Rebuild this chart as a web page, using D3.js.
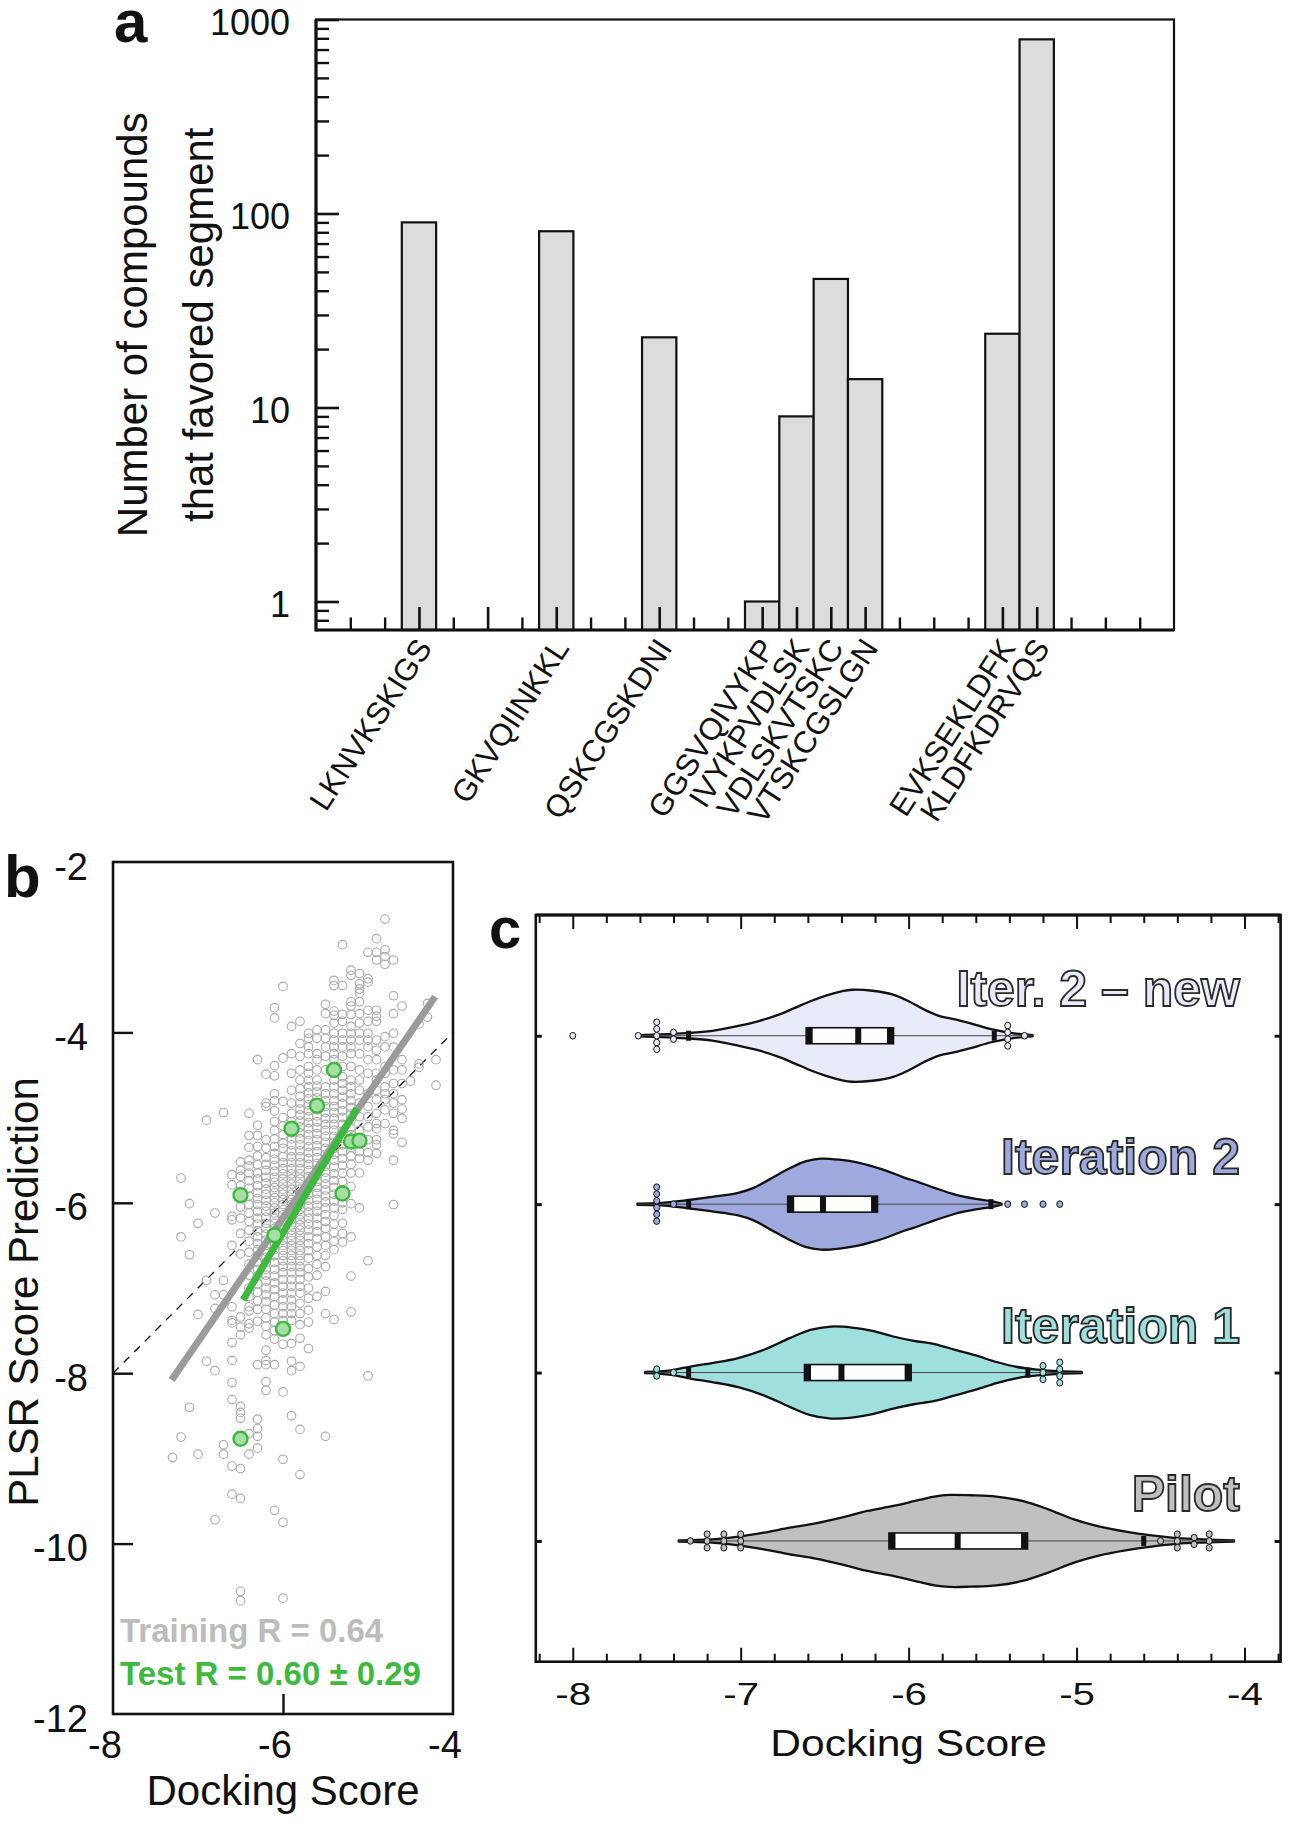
<!DOCTYPE html>
<html><head><meta charset="utf-8">
<script src="https://cdn.jsdelivr.net/npm/d3@7"></script>
<style>body{margin:0;background:#fff}svg{display:block}</style>
</head><body>
<svg id="fig" width="1290" height="1828" xmlns="http://www.w3.org/2000/svg"></svg>
<script>
// ================= DATA =================
// Panel a
const segPos    = [3, 5, 7, 10, 13, 14, 15, 16, 20, 21];
const segLabels = ["LKNVKSKIGS", "", "GKVQIINKKL", "QSKCGSKDNI", "GGSVQIVYKP", "IVYKPVDLSK", "VDLSKVTSKC", "VTSKCGSLGN", "EVKSEKLDFK", "KLDFKDRVQS"];
const segCounts = [90, 0, 81, 23, 1, 9, 46, 14, 24, 790];
const aYTicks   = [1, 10, 100, 1000];

// Panel b : training points as columns [docking score, [predictions]]
const trainColumns = [
 [-7.3, [-8.99]],
 [-7.2, [-5.71, -6.40, -8.75]],
 [-7.1, [-6.01, -6.61, -8.40]],
 [-7.0, [-6.24, -7.31, -8.95]],
 [-6.9, [-5.03, -6.91, -7.86]],
 [-6.8, [-6.12, -7.08, -7.24, -7.97, -9.72]],
 [-6.7, [-4.94, -6.91, -7.08, -8.84, -8.95]],
 [-6.6, [-5.67, -5.79, -6.16, -6.20, -6.50, -7.22, -7.38, -7.41, -7.64, -7.85, -8.11, -8.31, -9.09, -9.42]],
 [-6.5, [-5.52, -5.62, -5.69, -5.80, -6.05, -6.18, -6.36, -6.60, -7.34, -7.46, -7.55, -8.39, -8.46, -8.53, -9.12, -9.47, -10.56, -10.67]],
 [-6.4, [-4.95, -5.21, -5.35, -5.50, -5.57, -5.65, -5.74, -5.83, -5.92, -6.02, -6.12, -6.22, -6.32, -6.45, -6.58, -6.72, -6.85, -7.00, -7.10, -7.22, -7.27, -7.42, -7.47, -8.71, -8.95]],
 [-6.3, [-4.32, -5.09, -5.21, -5.34, -5.45, -5.55, -5.65, -5.72, -5.80, -5.88, -5.95, -6.02, -6.10, -6.18, -6.25, -6.33, -6.40, -6.48, -6.55, -6.62, -6.70, -6.78, -6.86, -6.95, -7.05, -7.15, -7.25, -7.39, -7.90, -8.54, -8.65, -8.74, -8.88]],
 [-6.2, [-4.49, -4.83, -4.87, -5.26, -5.36, -5.47, -5.55, -5.62, -5.70, -5.77, -5.84, -5.90, -5.97, -6.04, -6.10, -6.17, -6.24, -6.30, -6.37, -6.44, -6.50, -6.57, -6.64, -6.70, -6.78, -6.85, -6.92, -7.00, -7.08, -7.16, -7.25, -7.35, -7.45, -7.55, -7.73, -7.85, -7.90, -8.10, -8.20]],
 [-6.1, [-3.71, -3.83, -4.39, -4.51, -4.72, -4.80, -4.92, -5.05, -5.15, -5.25, -5.34, -5.42, -5.49, -5.56, -5.63, -5.70, -5.76, -5.82, -5.88, -5.94, -6.00, -6.06, -6.12, -6.18, -6.24, -6.30, -6.36, -6.42, -6.48, -6.55, -6.62, -6.70, -6.78, -6.86, -6.94, -7.02, -7.10, -7.20, -7.30, -7.40, -7.50, -7.60, -7.90, -9.61]],
 [-6.0, [-3.46, -4.30, -4.81, -5.00, -5.10, -5.20, -5.30, -5.36, -5.46, -5.53, -5.60, -5.66, -5.72, -5.78, -5.84, -5.90, -5.96, -6.02, -6.08, -6.14, -6.20, -6.26, -6.32, -6.38, -6.44, -6.50, -6.56, -6.62, -6.68, -6.75, -6.82, -6.90, -6.98, -7.06, -7.14, -7.22, -7.30, -7.38, -7.66, -8.22, -9.01, -9.75, -10.64]],
 [-5.9, [-3.93, -4.25, -4.48, -4.68, -4.83, -4.95, -5.05, -5.18, -5.25, -5.32, -5.39, -5.46, -5.53, -5.60, -5.66, -5.72, -5.78, -5.84, -5.90, -5.96, -6.02, -6.08, -6.14, -6.20, -6.26, -6.32, -6.38, -6.44, -6.50, -6.56, -6.62, -6.68, -6.75, -6.82, -6.90, -6.98, -7.06, -7.14, -7.22, -7.30, -7.38, -7.65, -7.86, -7.97, -8.50]],
 [-5.8, [-3.87, -4.13, -4.28, -4.44, -4.56, -4.66, -4.75, -4.83, -4.90, -4.97, -5.04, -5.11, -5.18, -5.25, -5.32, -5.39, -5.46, -5.53, -5.60, -5.66, -5.72, -5.78, -5.84, -5.90, -5.96, -6.02, -6.08, -6.14, -6.20, -6.26, -6.32, -6.38, -6.44, -6.50, -6.56, -6.62, -6.68, -6.75, -6.82, -6.90, -6.98, -7.06, -7.18, -7.30, -7.43, -7.59, -7.92, -8.66, -9.19]],
 [-5.7, [-4.01, -4.07, -4.17, -4.25, -4.40, -4.48, -4.56, -4.64, -4.71, -4.78, -4.85, -4.92, -4.99, -5.06, -5.13, -5.20, -5.27, -5.34, -5.41, -5.48, -5.55, -5.62, -5.69, -5.76, -5.83, -5.90, -5.97, -6.04, -6.11, -6.18, -6.25, -6.32, -6.40, -6.48, -6.56, -6.65, -6.77, -6.87, -7.00, -7.12, -7.26, -7.40, -7.71]],
 [-5.6, [-3.97, -4.07, -4.25, -4.32, -4.44, -4.56, -4.63, -4.70, -4.77, -4.84, -4.91, -4.98, -5.05, -5.12, -5.19, -5.26, -5.33, -5.40, -5.47, -5.54, -5.61, -5.68, -5.75, -5.82, -5.89, -5.96, -6.03, -6.10, -6.18, -6.26, -6.34, -6.42, -6.52, -6.62, -6.72, -6.85, -7.10]],
 [-5.5, [-3.67, -3.78, -3.97, -4.07, -4.17, -4.28, -4.44, -4.64, -4.72, -4.80, -4.87, -4.94, -5.01, -5.08, -5.15, -5.22, -5.29, -5.36, -5.43, -5.50, -5.57, -5.64, -5.71, -5.78, -5.85, -5.92, -5.99, -6.06, -6.14, -6.22, -6.30, -6.40, -6.50, -6.62, -6.75, -7.04, -7.30, -8.74]],
 [-5.4, [-3.39, -3.45, -3.75, -3.80, -3.89, -4.01, -4.09, -4.17, -4.25, -4.32, -4.40, -4.48, -4.56, -4.64, -4.72, -4.80, -4.87, -4.94, -5.01, -5.08, -5.15, -5.22, -5.29, -5.36, -5.43, -5.50, -5.58, -5.66, -5.74, -5.82, -5.90, -5.98, -6.06, -6.15, -6.25, -6.35, -6.45, -6.55, -7.37]],
 [-5.3, [-2.97, -3.45, -3.79, -3.87, -4.01, -4.09, -4.17, -4.28, -4.40, -4.52, -4.60, -4.68, -4.76, -4.84, -4.92, -5.00, -5.08, -5.16, -5.24, -5.32, -5.40, -5.48, -5.56, -5.65, -5.75, -5.85, -6.00, -6.08, -6.24, -6.36, -6.46]],
 [-5.2, [-3.27, -3.33, -3.64, -3.69, -3.79, -3.93, -4.01, -4.09, -4.17, -4.25, -4.40, -4.56, -4.64, -4.72, -4.80, -4.88, -4.96, -5.04, -5.12, -5.20, -5.35, -5.45, -5.55, -5.65, -5.81, -6.01, -6.40, -6.86, -7.28]],
 [-5.1, [-3.31, -3.43, -3.49, -3.54, -3.64, -3.78, -3.89, -4.01, -4.09, -4.25, -4.44, -4.56, -4.68, -4.83, -4.99, -5.15, -5.40, -5.48, -5.65, -6.06]],
 [-5.0, [-3.06, -3.37, -3.41, -3.74, -3.87, -4.01, -4.09, -4.17, -4.32, -4.48, -4.72, -4.87, -4.99, -5.11, -5.26, -5.41, -5.50, -6.68, -8.03]],
 [-4.9, [-2.90, -3.06, -3.15, -3.74, -3.81, -3.87, -4.09, -4.21, -4.32, -4.48, -4.56, -4.68, -4.79, -4.95, -5.07, -5.13, -5.26, -5.32, -5.42]],
 [-4.8, [-2.67, -3.03, -3.11, -3.20, -4.05, -4.17, -4.40, -4.48, -4.64, -4.72, -4.79, -4.91, -5.07]],
 [-4.7, [-3.15, -3.57, -3.78, -4.01, -4.17, -4.44, -4.60, -4.72, -4.83, -4.95, -5.15, -5.19, -5.50, -6.02]],
 [-4.6, [-3.69, -4.32, -4.44, -4.60, -4.79, -4.90, -5.01, -5.29]],
 [-4.5, [-4.57]],
 [-4.4, [-3.90, -4.37, -4.41]],
 [-4.3, [-3.66, -3.82]],
 [-4.2, [-4.32, -4.62]]
];
const testDocking = [-5.4, -5.6, -5.9, -5.2, -5.1, -6.5, -5.3, -6.1, -6.0, -6.5];
const testPred    = [-4.44, -4.86, -5.13, -5.28, -5.27, -5.91, -5.89, -6.38, -7.48, -8.77];
const trainFit = [[-7.31, -8.08], [-4.21, -3.58]];
const testFit  = [[-6.47, -7.14], [-5.13, -4.89]];
const bYTicks = [-2, -4, -6, -8, -10, -12];
const bXTicks = [-8, -6, -4];

// Panel c
const groups = ["Iter. 2 \u2013 new", "Iteration 2", "Iteration 1", "Pilot"];
// density outlines [docking score, relative density]
const densIter2New = [[-7.615,0],[-7.477,0.015],[-7.323,0.043],[-7.169,0.094],[-7.015,0.203],[-6.892,0.31],[-6.769,0.457],[-6.677,0.60],[-6.585,0.746],[-6.492,0.87],[-6.40,0.964],[-6.338,1.0],[-6.215,0.978],[-6.092,0.891],[-6.0,0.746],[-5.908,0.565],[-5.815,0.42],[-5.723,0.348],[-5.631,0.26],[-5.508,0.13],[-5.385,0.043],[-5.262,0]];
const densIter2 = [[-7.615,0],[-7.477,0.015],[-7.323,0.073],[-7.169,0.147],[-7.015,0.235],[-6.923,0.345],[-6.831,0.527],[-6.708,0.776],[-6.615,0.93],[-6.523,0.99],[-6.40,0.96],[-6.308,0.908],[-6.215,0.82],[-6.123,0.71],[-6.031,0.578],[-5.938,0.468],[-5.846,0.345],[-5.723,0.198],[-5.60,0.103],[-5.508,0.051],[-5.446,0]];
const densIter1 = [[-7.569,0],[-7.415,0.037],[-7.292,0.125],[-7.169,0.197],[-7.015,0.306],[-6.862,0.488],[-6.708,0.744],[-6.585,0.926],[-6.462,1.0],[-6.338,0.978],[-6.215,0.904],[-6.092,0.781],[-5.969,0.685],[-5.846,0.613],[-5.723,0.488],[-5.60,0.365],[-5.477,0.219],[-5.354,0.109],[-5.231,0.05],[-5.108,0.015],[-4.969,0]];
const densPilot = [[-7.369,0],[-7.169,0.022],[-7.015,0.082],[-6.862,0.17],[-6.708,0.28],[-6.554,0.375],[-6.40,0.501],[-6.246,0.647],[-6.092,0.757],[-5.938,0.89],[-5.846,0.965],[-5.754,1.0],[-5.631,0.993],[-5.477,0.965],[-5.323,0.868],[-5.169,0.684],[-5.015,0.464],[-4.862,0.302],[-4.708,0.192],[-4.554,0.11],[-4.40,0.051],[-4.246,0.022],[-4.062,0]];
// box stats: [lower whisker, q1, median, q3, upper whisker]
const boxIter2New = [-7.31, -6.61, -6.30, -6.09, -5.49];
const boxIter2    = [-7.31, -6.72, -6.51, -6.185, -5.51];
const boxIter1    = [-7.31, -6.62, -6.40, -5.985, -5.29];
const boxPilot    = [-7.00, -6.117, -5.708, -5.292, -4.60];
// outliers: [docking score, count]
const outIter2New = [[-8.0,1],[-7.61,1],[-7.50,5],[-7.40,2],[-5.41,4],[-5.31,1]];
const outIter2    = [[-7.50,6],[-7.40,1],[-5.41,1],[-5.31,1],[-5.20,1],[-5.10,1]];
const outIter1    = [[-7.50,2],[-7.40,1],[-5.20,3],[-5.10,4]];
const outPilot    = [[-7.30,1],[-7.20,3],[-7.10,3],[-7.00,3],[-4.50,1],[-4.40,3],[-4.30,2],[-4.21,3]];
const cXTicks = [-8, -7, -6, -5, -4];

// ================= STYLE =================
const FONT = '"Liberation Sans", Arial, Helvetica, sans-serif';
const INK = "#111";
const groupFill = ["#e7ebf8", "#9ea9dd", "#9fe0de", "#c0c0c0"];

const svg = d3.select("#fig");
function styleAxis(g, fs, w) {
  g.select(".domain").remove();
  g.selectAll(".tick line").attr("stroke", INK).attr("stroke-width", w);
  g.selectAll(".tick text").attr("fill", INK).style("font-family", FONT).style("font-size", fs + "px");
}
function txt(g, x, y, s, fs, opts = {}) {
  const t = g.append("text").attr("x", x).attr("y", y).text(s)
    .style("font-family", FONT).style("font-size", fs + "px")
    .attr("fill", opts.fill || INK).attr("text-anchor", opts.anchor || "start");
  if (opts.bold) t.style("font-weight", "bold");
  if (opts.transform) t.attr("transform", opts.transform);
  return t;
}

// ================= PANEL A =================
const aX = d3.scaleLinear().domain([0, 25]).range([316, 1174]);
const aY = d3.scaleLog().domain([0.713, 1000]).range([630, 19.5]);
const gA = svg.append("g");
const barData = segPos.map((p, i) => ({ p, v: segCounts[i] })).filter(d => d.v > 0);
gA.selectAll("rect.bar").data(barData).join("rect").attr("class", "bar")
  .attr("x", d => aX(d.p - 0.5)).attr("width", d => aX(d.p + 0.5) - aX(d.p - 0.5))
  .attr("y", d => aY(d.v)).attr("height", d => aY.range()[0] - aY(d.v))
  .attr("fill", "#dcdcdc").attr("stroke", INK).attr("stroke-width", 2.2);

const aMinor = [0.8, 0.9];
[1, 10, 100].forEach(k => d3.range(2, 10).forEach(m => aMinor.push(k * m)));
const aYmaj = gA.append("g").attr("transform", `translate(${aX(0)},0)`)
  .call(d3.axisLeft(aY).tickValues(aYTicks).tickFormat(d => String(d)).tickSize(-23).tickPadding(26));
styleAxis(aYmaj, 36, 2.6);
aYmaj.selectAll(".tick text").attr("dy", 15);
const aYmin = gA.append("g").attr("transform", `translate(${aX(0)},0)`)
  .call(d3.axisLeft(aY).tickValues(aMinor).tickFormat("").tickSize(-13));
styleAxis(aYmin, 36, 2.4);
const xTickAll = d3.range(1, 25);
const aXshort = gA.append("g").attr("transform", `translate(0,${aY.range()[0]})`)
  .call(d3.axisBottom(aX).tickValues(xTickAll.filter(t => !segPos.includes(t))).tickFormat("").tickSize(-12.5));
styleAxis(aXshort, 10, 2.4);
const aXlong = gA.append("g").attr("transform", `translate(0,${aY.range()[0]})`)
  .call(d3.axisBottom(aX).tickValues(segPos).tickFormat("").tickSize(-23));
styleAxis(aXlong, 10, 2.6);
// frame
gA.append("rect").attr("x", aX(0)).attr("y", aY.range()[1]).attr("width", aX(25) - aX(0))
  .attr("height", aY.range()[0] - aY.range()[1]).attr("fill", "none").attr("stroke", INK).attr("stroke-width", 2.2);
gA.append("line").attr("x1", aX(0)).attr("x2", aX(0)).attr("y1", aY.range()[1]).attr("y2", aY.range()[0] + 1.5).attr("stroke", INK).attr("stroke-width", 3.2);
gA.append("line").attr("x1", aX(0)).attr("x2", aX(25)).attr("y1", aY.range()[0]).attr("y2", aY.range()[0]).attr("stroke", INK).attr("stroke-width", 3.2);
// category labels
segPos.forEach((p, i) => {
  if (!segLabels[i]) return;
  txt(gA, 0, 0, segLabels[i], 31, { anchor: "end", transform: `translate(${aX(p) + 14},648) rotate(-57)` });
});
// y title
const aCy = (aY.range()[0] + aY.range()[1]) / 2;
txt(gA, 0, 0, "Number of compounds", 42, { anchor: "middle", transform: `translate(147,${aCy}) rotate(-90)` });
txt(gA, 0, 0, "that favored segment", 42, { anchor: "middle", transform: `translate(213,${aCy}) rotate(-90)` });
txt(gA, 114, 42, "a", 60, { bold: true });

// ================= PANEL B =================
const bX = d3.scaleLinear().domain([-8, -4]).range([113, 453]);
const bY = d3.scaleLinear().domain([-12, -2]).range([1714, 862]);
const gB = svg.append("g");
const defs = svg.append("defs");
defs.append("clipPath").attr("id", "clipB").append("rect")
  .attr("x", bX(-8)).attr("y", bY(-2)).attr("width", bX(-4) - bX(-8)).attr("height", bY(-12) - bY(-2));
const gBplot = gB.append("g").attr("clip-path", "url(#clipB)");
// identity dashed line
gBplot.append("line").attr("x1", bX(-8)).attr("y1", bY(-8)).attr("x2", bX(-4)).attr("y2", bY(-4))
  .attr("stroke", INK).attr("stroke-width", 1.3).attr("stroke-dasharray", "8,7");
// training points
const trainPts = [];
trainColumns.forEach(([x, ys]) => ys.forEach(y => trainPts.push([x, y])));
gBplot.selectAll("circle.tr").data(trainPts).join("circle").attr("class", "tr")
  .attr("cx", d => bX(d[0])).attr("cy", d => bY(d[1])).attr("r", 4.3)
  .attr("fill", "none").attr("stroke", "#a9a9a9").attr("stroke-width", 1.1);
// fits
const line = d3.line().x(d => bX(d[0])).y(d => bY(d[1]));
gBplot.append("path").attr("d", line(trainFit)).attr("stroke", "#9b9b9b").attr("stroke-width", 7).attr("fill", "none");
gBplot.append("path").attr("d", line(testFit)).attr("stroke", "#3dba3d").attr("stroke-width", 7).attr("fill", "none");
// test points
gBplot.selectAll("circle.te").data(testDocking.map((x, i) => [x, testPred[i]])).join("circle").attr("class", "te")
  .attr("cx", d => bX(d[0])).attr("cy", d => bY(d[1])).attr("r", 7)
  .attr("fill", "#a6dea6").attr("stroke", "#3dba3d").attr("stroke-width", 2.4);
// axes
const bYlab = gB.append("g").attr("transform", `translate(${bX(-8)},0)`)
  .call(d3.axisLeft(bY).tickValues(bYTicks).tickFormat(d => String(d)).tickSize(0).tickPadding(25));
styleAxis(bYlab, 38, 0);
bYlab.selectAll(".tick text").attr("dy", 17);
const bYtk = gB.append("g").attr("transform", `translate(${bX(-8)},0)`)
  .call(d3.axisLeft(bY).tickValues([-4, -6, -8, -10]).tickFormat("").tickSize(-20));
styleAxis(bYtk, 10, 2.4);
const bXlab = gB.append("g").attr("transform", `translate(0,${bY(-12)})`)
  .call(d3.axisBottom(bX).tickValues(bXTicks).tickFormat(d => String(d)).tickSize(0).tickPadding(17));
styleAxis(bXlab, 38, 0);
bXlab.selectAll(".tick text").attr("x", -8.5);
const bXtk = gB.append("g").attr("transform", `translate(0,${bY(-12)})`)
  .call(d3.axisBottom(bX).tickValues([-6]).tickFormat("").tickSize(-20));
styleAxis(bXtk, 10, 2.4);
gB.append("rect").attr("x", bX(-8)).attr("y", bY(-2)).attr("width", bX(-4) - bX(-8)).attr("height", bY(-12) - bY(-2))
  .attr("fill", "none").attr("stroke", INK).attr("stroke-width", 2.6);
txt(gB, 120, 1641.5, "Training R = 0.64", 33, { bold: true, fill: "#bcbcbc" });
txt(gB, 120, 1685, "Test R = 0.60 \u00b1 0.29", 33, { bold: true, fill: "#3dba3d" });
txt(gB, 0, 0, "PLSR Score Prediction", 42, { anchor: "middle", transform: `translate(38,${(bY(-2) + bY(-12)) / 2 + 4}) rotate(-90)` });
txt(gB, bX(-6), 1805, "Docking Score", 42, { anchor: "middle" });
txt(gB, 4, 897, "b", 60, { bold: true });

// ================= PANEL C =================
const cX = d3.scaleLinear().domain([-8.22, -3.785]).range([535.8, 1280.6]);
const cY = d3.scalePoint().domain(groups).range([915, 1661.7]).padding(0.717);
const wS = d3.scaleLinear().domain([0, 1]).range([0.6, 46]);
const gC = svg.append("g");
const dens = [densIter2New, densIter2, densIter1, densPilot];
const boxes = [boxIter2New, boxIter2, boxIter1, boxPilot];
const outs = [outIter2New, outIter2, outIter1, outPilot];
groups.forEach((gname, i) => {
  const cy = cY(gname);
  const area = d3.area().x(d => cX(d[0])).y0(d => cy - wS(d[1])).y1(d => cy + wS(d[1]))
    .curve(d3.curveCatmullRom.alpha(0.5));
  gC.append("path").attr("d", area(dens[i])).attr("fill", groupFill[i])
    .attr("stroke", INK).attr("stroke-width", 2.3).attr("stroke-linejoin", "round");
  const [wl, q1, md, q3, wh] = boxes[i];
  const d0 = dens[i][0][0], d1 = dens[i][dens[i].length - 1][0];
  gC.append("line").attr("x1", cX(d0)).attr("x2", cX(d1)).attr("y1", cy).attr("y2", cy)
    .attr("stroke", "#444").attr("stroke-width", 1);
  [wl, wh].forEach(w => gC.append("rect").attr("x", cX(w) - 2.5).attr("y", cy - 5).attr("width", 5).attr("height", 10).attr("fill", INK));
  gC.append("rect").attr("x", cX(q1)).attr("y", cy - 8).attr("width", cX(q3) - cX(q1)).attr("height", 16)
    .attr("fill", "#fff").attr("stroke", INK).attr("stroke-width", 1.6);
  gC.append("rect").attr("x", cX(q1)).attr("y", cy - 8).attr("width", 6.5).attr("height", 16).attr("fill", INK);
  gC.append("rect").attr("x", cX(q3) - 6.5).attr("y", cy - 8).attr("width", 6.5).attr("height", 16).attr("fill", INK);
  gC.append("rect").attr("x", cX(md) - 3).attr("y", cy - 8).attr("width", 6).attr("height", 16).attr("fill", INK);
  outs[i].forEach(([v, n]) => {
    for (let k = 0; k < n; k++) {
      const off = (k - (n - 1) / 2) * 6.8;
      gC.append("ellipse").attr("cx", cX(v)).attr("cy", cy + off).attr("rx", 3).attr("ry", 3.3)
        .attr("fill", groupFill[i]).attr("stroke", INK).attr("stroke-width", 1);
    }
  });
  gC.append("text").attr("x", 1240).attr("y", cy - 30).attr("text-anchor", "end").text(gname)
    .style("font-family", FONT).style("font-size", "50px").style("font-weight", "bold")
    .attr("fill", groupFill[i]).attr("stroke", "#2a2a2a").attr("stroke-width", 1.8);
});
const cMinor = d3.range(-8.2, -3.79, 0.2).map(v => +v.toFixed(1)).filter(v => !cXTicks.includes(v));
const cBot = cY.range()[1], cTop = cY.range()[0];
const cXlab = gC.append("g").attr("transform", `translate(0,${cBot})`)
  .call(d3.axisBottom(cX).tickValues(cXTicks).tickFormat(d => String(d)).tickSize(-14).tickPadding(19));
styleAxis(cXlab, 31, 2);
cXlab.selectAll(".tick text").attr("y", 21).attr("dy", "0.71em").attr("transform", "scale(1.3,1)");
const cXmin = gC.append("g").attr("transform", `translate(0,${cBot})`)
  .call(d3.axisBottom(cX).tickValues(cMinor).tickFormat("").tickSize(-8));
styleAxis(cXmin, 10, 2);
const cTmaj = gC.append("g").attr("transform", `translate(0,${cTop})`)
  .call(d3.axisTop(cX).tickValues(cXTicks).tickFormat("").tickSize(-14));
styleAxis(cTmaj, 10, 2);
const cTmin = gC.append("g").attr("transform", `translate(0,${cTop})`)
  .call(d3.axisTop(cX).tickValues(cMinor).tickFormat("").tickSize(-8));
styleAxis(cTmin, 10, 2);
const cL = gC.append("g").attr("transform", `translate(${cX.range()[0]},0)`)
  .call(d3.axisLeft(cY).tickFormat("").tickSize(-6));
styleAxis(cL, 10, 3);
const cR = gC.append("g").attr("transform", `translate(${cX.range()[1]},0)`)
  .call(d3.axisRight(cY).tickFormat("").tickSize(-6));
styleAxis(cR, 10, 3);
gC.append("rect").attr("x", cX.range()[0]).attr("y", cTop).attr("width", cX.range()[1] - cX.range()[0]).attr("height", cBot - cTop)
  .attr("fill", "none").attr("stroke", INK).attr("stroke-width", 2.6);
gC.append("line").attr("x1", cX.range()[0]).attr("x2", cX.range()[1]).attr("y1", cTop).attr("y2", cTop).attr("stroke", INK).attr("stroke-width", 3.2);
txt(gC, 0, 0, "Docking Score", 37, { anchor: "middle", transform: `translate(${cX(-6)},1756) scale(1.15,1)` });
txt(gC, 489, 948, "c", 58, { bold: true });
</script>
</body></html>
